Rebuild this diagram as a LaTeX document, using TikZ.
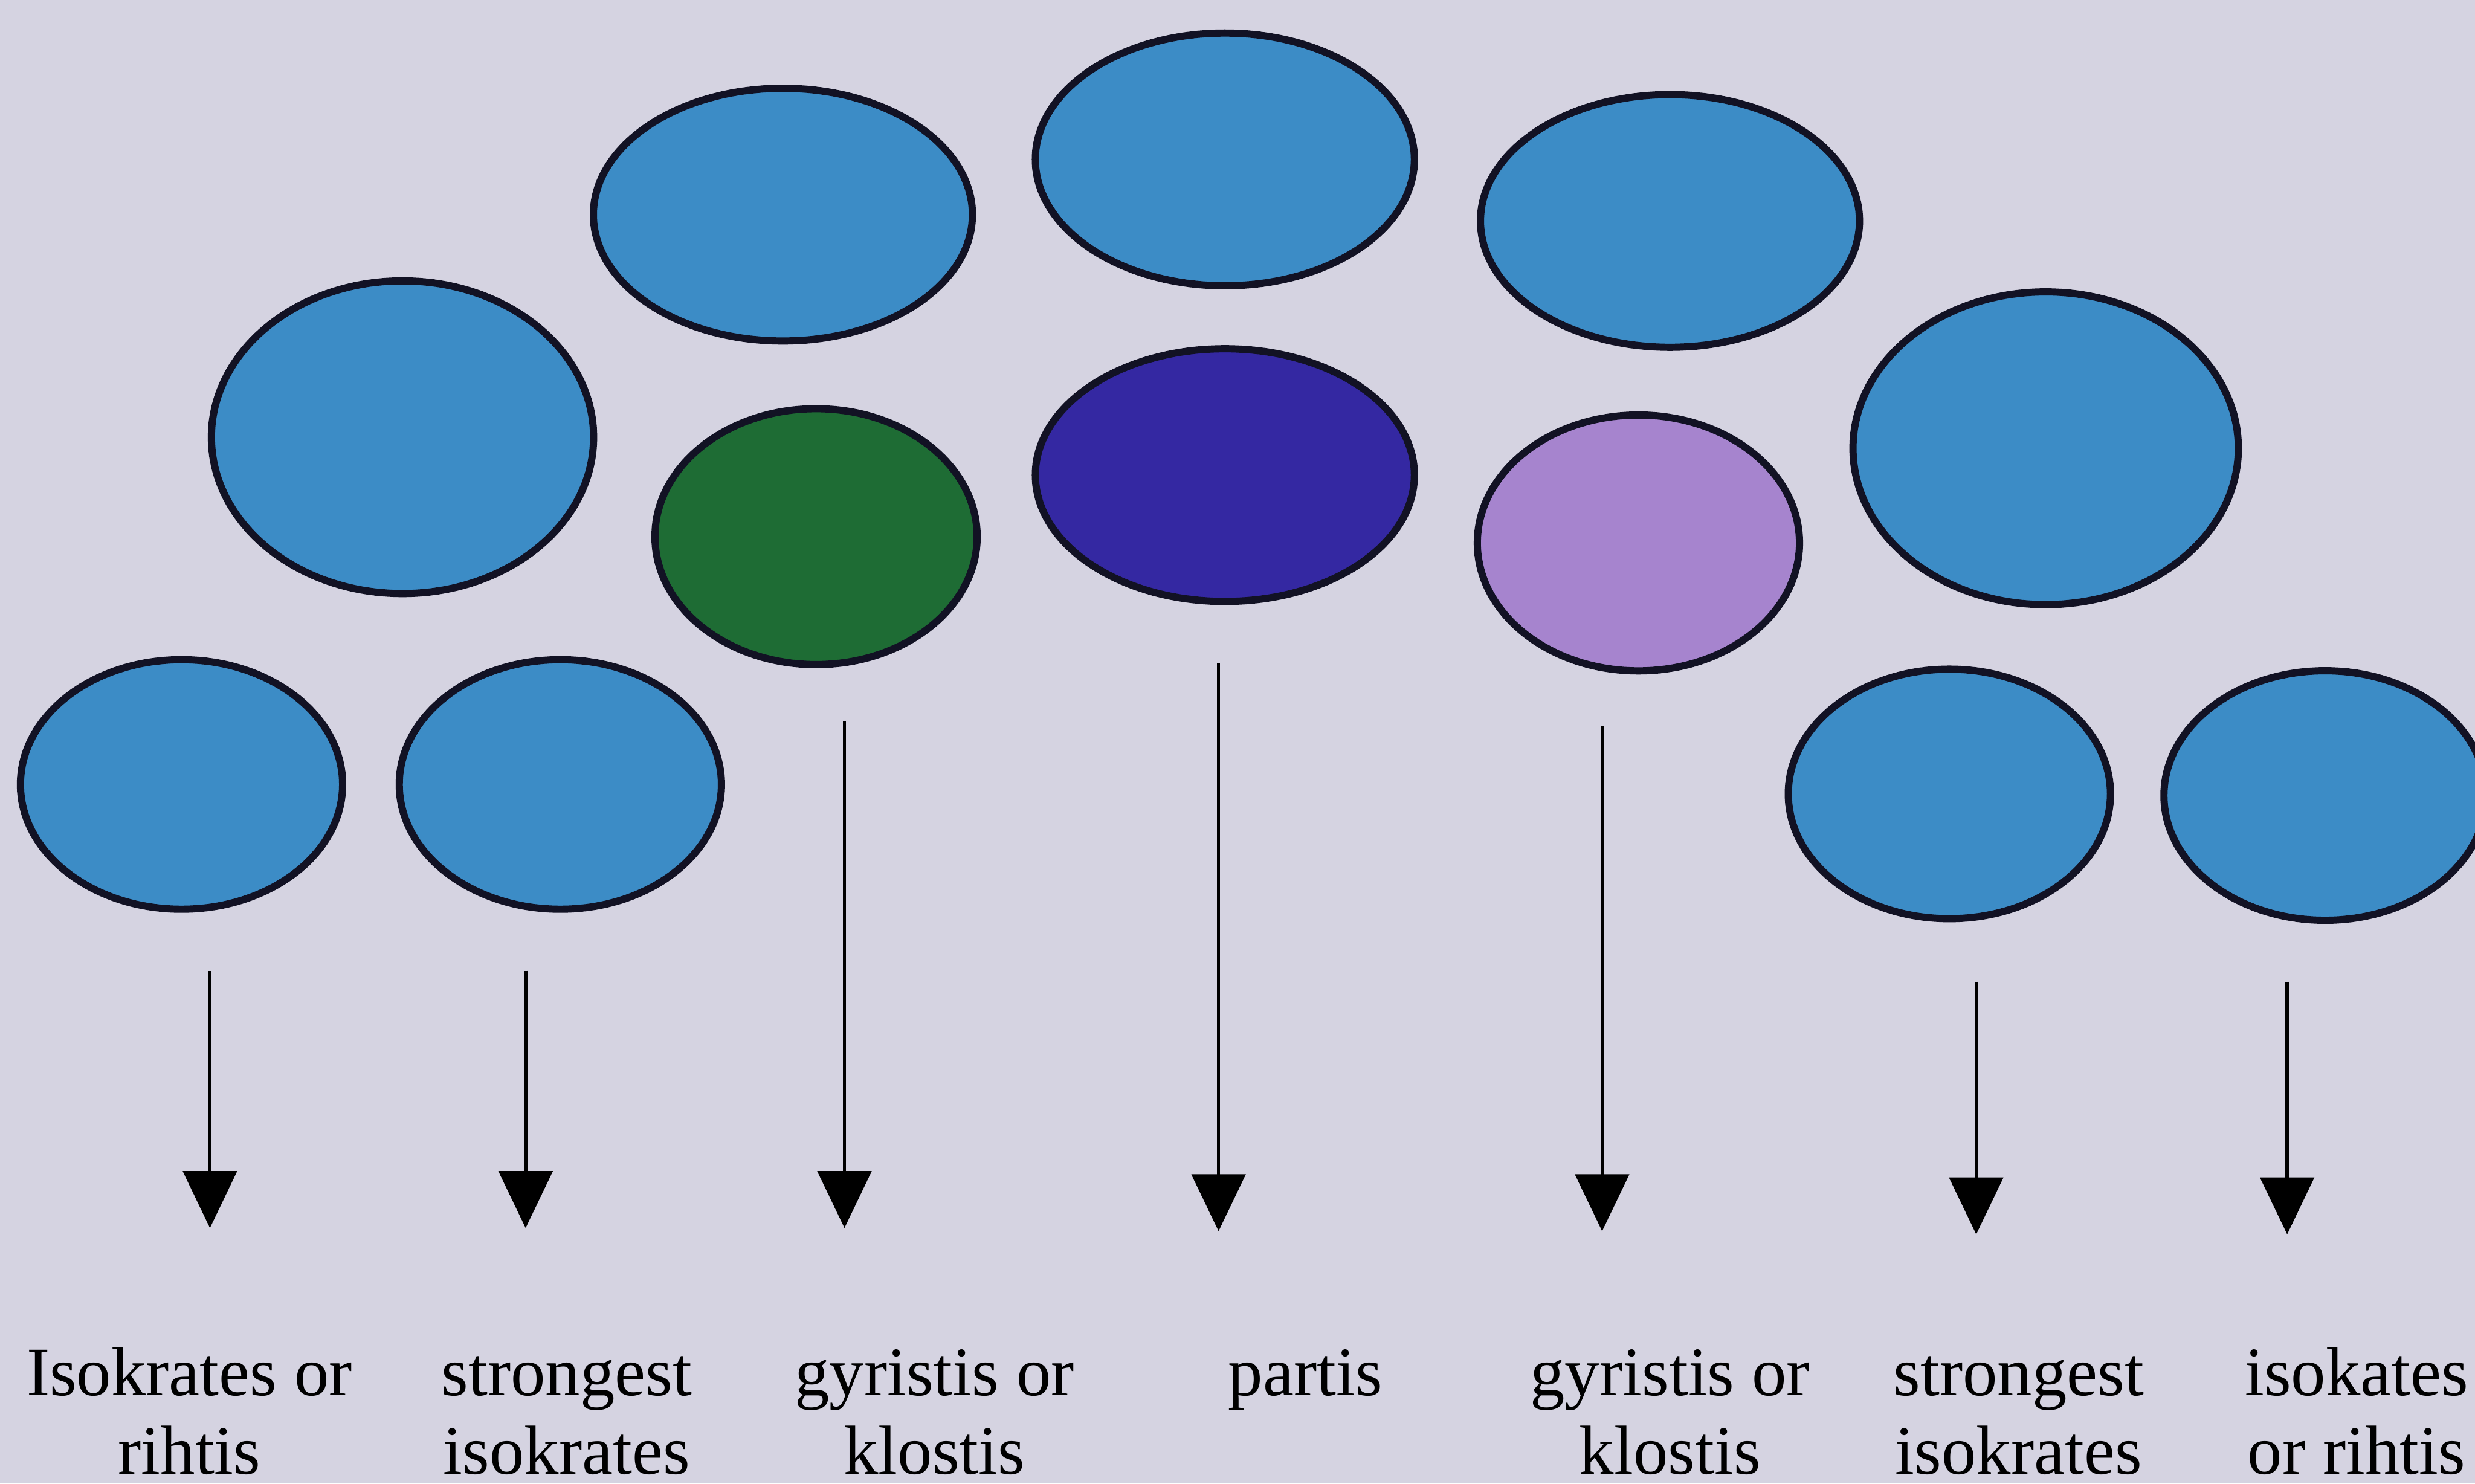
\documentclass[tikz,border=0pt]{standalone}
\usepackage{fontspec}
\setmainfont{Liberation Serif}
\usepackage{tikz}
\usetikzlibrary{arrows.meta,shapes.geometric}
\definecolor{pagebg}{RGB}{213,211,225}
\definecolor{skyblue}{RGB}{60,140,198}
\definecolor{leafgreen}{RGB}{30,108,52}
\definecolor{inkblue}{RGB}{52,40,162}
\definecolor{lilac}{RGB}{166,132,206}
\definecolor{blobline}{RGB}{18,18,36}

\begin{document}
\begin{tikzpicture}[
  x=0.01cm, y=-0.01cm,
  blob/.style={ellipse, draw=blobline, line width=1.3pt, inner sep=0pt},
  sky/.style={blob, fill=skyblue},
  lab/.style={anchor=base, align=center, text=black,
              font=\fontsize{12.5}{14.2}\selectfont},
  arrow/.style={-{Triangle[length=0.36cm, width=0.34cm]}, line width=0.6pt},
]

%% ── Background ────────────────────────────────────────────────────────────
\fill[pagebg] (0,0) rectangle (1568,940);
\useasboundingbox (0,0) rectangle (1568,940);

%% ── Top row ───────────────────────────────────────────────────────────────
\foreach \n/\x/\y in {top1/496/136, top2/776/101, top3/1058/140} {
  \node[sky, minimum width=2.40cm, minimum height=1.60cm] (\n) at (\x,\y) {};
}

%% ── Middle row ────────────────────────────────────────────────────────────
\node[sky, minimum width=2.42cm, minimum height=1.98cm] (midL) at (255,277) {};
\node[sky, minimum width=2.44cm, minimum height=1.98cm] (midR) at (1296,284) {};
\node[blob, fill=leafgreen, minimum width=2.04cm, minimum height=1.62cm]
  (green) at (517,340) {};
\node[blob, fill=inkblue, minimum width=2.40cm, minimum height=1.60cm]
  (ink) at (776,301) {};
\node[blob, fill=lilac, minimum width=2.04cm, minimum height=1.62cm]
  (lilac) at (1038,344) {};

%% ── Bottom row ────────────────────────────────────────────────────────────
\foreach \n/\x/\y in {low1/115/497, low2/355/497, low3/1235/503, low4/1473/504} {
  \node[sky, minimum width=2.04cm, minimum height=1.58cm] (\n) at (\x,\y) {};
}

%% ── Labels (base = last line) ─────────────────────────────────────────────
\node[lab] (lab1) at (120,934) {Isokrates or\\rihtis};
\node[lab] (lab2) at (359,934) {strongest\\isokrates};
\node[lab] (lab3) at (592,934) {gyristis or\\klostis};
\node[lab] (lab4) at (827,884) {partis};
\node[lab] (lab5) at (1058,934) {gyristis or\\klostis};
\node[lab] (lab6) at (1279,934) {strongest\\isokrates};
\node[lab] (lab7) at (1493,934) {isokates\\or rihtis};

%% ── Arrows ────────────────────────────────────────────────────────────────
\foreach \i/\x/\ys/\ye in {1/133/615/778, 2/333/615/778, 3/535/457/778,
                           4/772/420/780, 5/1015/460/780,
                           6/1252/622/782, 7/1449/622/782} {
  \coordinate (s\i) at (\x,\ys);
  \coordinate (t\i) at (\x,\ye);
  \draw[arrow] (s\i) -- (t\i);
}

\end{tikzpicture}
\end{document}
